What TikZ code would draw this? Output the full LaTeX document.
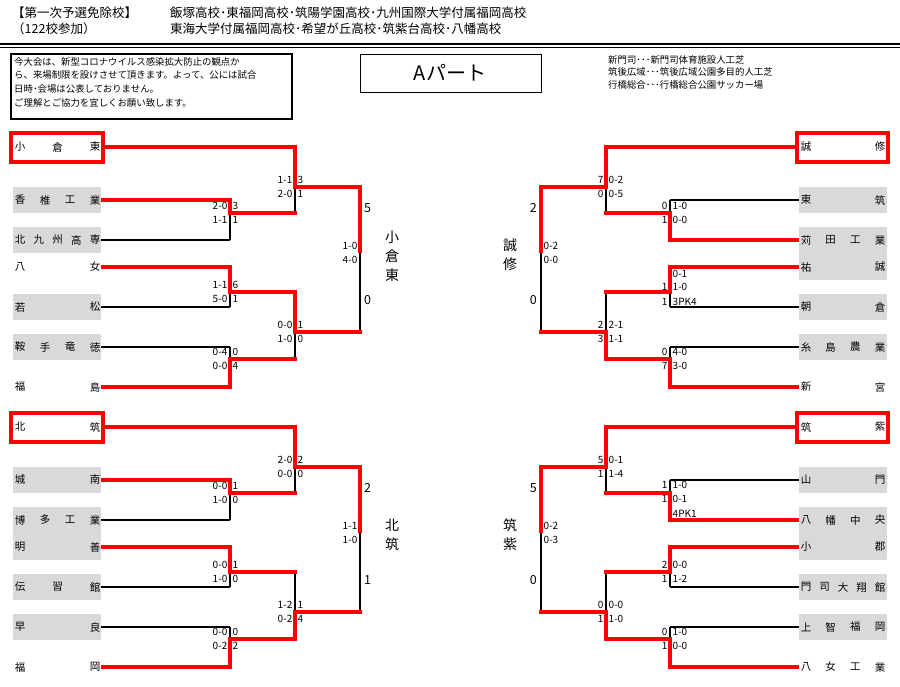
\documentclass[tikz,border=0pt]{standalone}
\usepackage{fontspec}
\setmainfont{Noto Sans CJK JP}
\definecolor{rd}{RGB}{255,0,0}
\definecolor{gb}{RGB}{217,217,217}
\tikzset{
 tn/.style={font=\fontsize{10.5}{11}\selectfont,inner sep=0pt},
 sc/.style={font=\fontsize{10}{10}\selectfont,inner sep=0pt},
 big/.style={font=\fontsize{12.5}{13}\selectfont,inner sep=0pt},
 lbl/.style={font=\fontsize{14}{14}\selectfont,inner sep=0pt},
 rl/.style={draw=rd,line width=4pt},
 bl/.style={draw=black,line width=1.3pt},
}
\newcommand\tmn[5]{\foreach \c [count=\i] in {#5} {\node[tn] at ({#1+(\i-1)*(#2-#1)/(#4-1)},#3) {\c};}}
\newcommand\mt[5]{%
 \ifnum#5=0 \draw[bl] (#1,#3)--(#1,#4); \draw[rl] (#1,#2)--(#1,#4);
 \else \draw[bl] (#1,#2)--(#1,#4); \draw[rl] (#1,#3)--(#1,#4);\fi}
\newcommand\sco[6]{%
 \node[sc,anchor=east] at (#1-2.5,#2-7) {#3};\node[sc,anchor=east] at (#1-2.5,#2+7) {#4};
 \node[sc,anchor=west] at (#1+2.5,#2-7) {#5};\node[sc,anchor=west] at (#1+2.5,#2+7) {#6};}
\newcommand\gbl[1]{\fill[gb] (13,#1-13) rectangle (101,#1+13);}
\newcommand\gbr[1]{\fill[gb] (799,#1-13) rectangle (887,#1+13);}
\begin{document}
\begin{tikzpicture}[x=1pt,y=-1pt]
\fill[white] (0,0) rectangle (900,686);
\useasboundingbox (0,0) rectangle (900,686);
\node[anchor=west,font=\fontsize{12.5}{13}\selectfont,inner sep=0pt] (h1) at (12,13) {【第一次予選免除校】};
\node[anchor=west,font=\fontsize{12.5}{13}\selectfont,inner sep=0pt] (h2) at (12,29) {（122校参加）};
\node[anchor=west,font=\fontsize{12.5}{13}\selectfont,inner sep=0pt] (h3) at (170,13) {飯塚高校･東福岡高校･筑陽学園高校･九州国際大学付属福岡高校};
\node[anchor=west,font=\fontsize{12.5}{13}\selectfont,inner sep=0pt] (h4) at (170,29) {東海大学付属福岡高校･希望が丘高校･筑紫台高校･八幡高校};
\draw[line width=1.2pt] (0,44)--(900,44);
\draw[line width=0.6pt] (0,47.5)--(900,47.5);
\draw[line width=2.5pt] (11,54) rectangle (292,119);
\node[anchor=north west,align=left,font=\fontsize{9.4}{13.7}\selectfont,inner sep=0pt] (nt) at (14,57) {今大会は、新型コロナウイルス感染拡大防止の観点か\\ら、来場制限を設けさせて頂きます。よって、公には試合\\日時･会場は公表しておりません。\\ご理解とご協力を宜しくお願い致します。};
\draw[line width=1pt] (360,54) rectangle (541,92);
\node[font=\fontsize{20}{20}\selectfont] (ap) at (450,73) {Aパート};
\node[anchor=north west,align=left,font=\fontsize{9.4}{12.8}\selectfont,inner sep=0pt] (vn) at (608,55) {新門司･･･新門司体育施設人工芝\\筑後広域･･･筑後広域公園多目的人工芝\\行橋総合･･･行橋総合公園サッカー場};
\gbl{200}\gbl{240}\gbl{307}\gbl{347}
\gbl{480}\fill[gb] (13,507) rectangle (101,560);\gbl{587}\gbl{627}
\gbr{200}\fill[gb] (799,227) rectangle (887,280);\gbr{307}\gbr{347}
\gbr{480}\fill[gb] (799,507) rectangle (887,560);\gbr{587}\gbr{627}
\draw[draw=rd,line width=3.5pt] (11,133) rectangle (103,162);
\draw[draw=rd,line width=3.5pt] (11,413) rectangle (103,442);
\draw[draw=rd,line width=3.5pt] (797,133) rectangle (888,162);
\draw[draw=rd,line width=3.5pt] (797,413) rectangle (888,442);
\tmn{20}{95}{147}{3}{小,倉,東}
\tmn{20}{95}{200}{4}{香,椎,工,業}
\tmn{20}{95}{240}{5}{北,九,州,高,専}
\tmn{20}{95}{267}{2}{八,女}
\tmn{20}{95}{307}{2}{若,松}
\tmn{20}{95}{347}{4}{鞍,手,竜,徳}
\tmn{20}{95}{387}{2}{福,島}
\tmn{20}{95}{427}{2}{北,筑}
\tmn{20}{95}{480}{2}{城,南}
\tmn{20}{95}{520}{4}{博,多,工,業}
\tmn{20}{95}{547}{2}{明,善}
\tmn{20}{95}{587}{3}{伝,習,館}
\tmn{20}{95}{627}{2}{早,良}
\tmn{20}{95}{667}{2}{福,岡}
\tmn{806}{880}{147}{2}{誠,修}
\tmn{806}{880}{200}{2}{東,筑}
\tmn{806}{880}{240}{4}{苅,田,工,業}
\tmn{806}{880}{267}{2}{祐,誠}
\tmn{806}{880}{307}{2}{朝,倉}
\tmn{806}{880}{347}{4}{糸,島,農,業}
\tmn{806}{880}{387}{2}{新,宮}
\tmn{806}{880}{427}{2}{筑,紫}
\tmn{806}{880}{480}{2}{山,門}
\tmn{806}{880}{520}{4}{八,幡,中,央}
\tmn{806}{880}{547}{2}{小,郡}
\tmn{806}{880}{587}{5}{門,司,大,翔,館}
\tmn{806}{880}{627}{4}{上,智,福,岡}
\tmn{806}{880}{667}{4}{八,女,工,業}
\draw[bl] (101,240)--(230,240); \draw[bl] (101,307)--(230,307); \draw[bl] (101,347)--(230,347);
\draw[bl] (101,520)--(230,520); \draw[bl] (101,587)--(230,587); \draw[bl] (101,627)--(230,627);
\draw[bl] (799,200)--(670,200); \draw[bl] (799,307)--(670,307); \draw[bl] (799,347)--(670,347);
\draw[bl] (799,480)--(670,480); \draw[bl] (799,587)--(670,587); \draw[bl] (799,627)--(670,627);
\mt{230}{200}{240}{213}{0}\mt{230}{267}{307}{292}{0}\mt{230}{347}{387}{359}{1}
\mt{295}{147}{213}{187}{0}\mt{295}{292}{359}{332}{0}\mt{360}{187}{332}{253}{0}
\mt{230}{480}{520}{493}{0}\mt{230}{547}{587}{572}{0}\mt{230}{627}{667}{639}{1}
\mt{295}{427}{493}{467}{0}\mt{295}{572}{639}{612}{1}\mt{360}{467}{612}{533}{0}
\mt{670}{200}{240}{213}{1}\mt{670}{267}{307}{292}{0}\mt{670}{347}{387}{359}{1}
\mt{606}{147}{213}{187}{0}\mt{606}{292}{359}{332}{1}\mt{541}{187}{332}{253}{0}
\mt{670}{480}{520}{493}{1}\mt{670}{547}{587}{572}{0}\mt{670}{627}{667}{639}{1}
\mt{606}{427}{493}{467}{0}\mt{606}{572}{639}{612}{1}\mt{541}{467}{612}{533}{0}
\draw[rl] (101,147)--(297,147); \draw[rl] (101,200)--(232,200); \draw[rl] (101,267)--(232,267); \draw[rl] (101,387)--(232,387);
\draw[rl] (228,213)--(297,213); \draw[rl] (228,292)--(297,292); \draw[rl] (228,359)--(297,359);
\draw[rl] (293,187)--(362,187); \draw[rl] (293,332)--(362,332);
\draw[rl] (101,427)--(297,427); \draw[rl] (101,480)--(232,480); \draw[rl] (101,547)--(232,547); \draw[rl] (101,667)--(232,667);
\draw[rl] (228,493)--(297,493); \draw[rl] (228,572)--(297,572); \draw[rl] (228,639)--(297,639);
\draw[rl] (293,467)--(362,467); \draw[rl] (293,612)--(362,612);
\draw[rl] (799,147)--(604,147); \draw[rl] (799,240)--(668,240); \draw[rl] (799,267)--(668,267); \draw[rl] (799,387)--(668,387);
\draw[rl] (672,213)--(604,213); \draw[rl] (672,292)--(604,292); \draw[rl] (672,359)--(604,359);
\draw[rl] (608,187)--(539,187); \draw[rl] (608,332)--(539,332);
\draw[rl] (799,427)--(604,427); \draw[rl] (799,520)--(668,520); \draw[rl] (799,547)--(668,547); \draw[rl] (799,667)--(668,667);
\draw[rl] (672,493)--(604,493); \draw[rl] (672,572)--(604,572); \draw[rl] (672,639)--(604,639);
\draw[rl] (608,467)--(539,467); \draw[rl] (608,612)--(539,612);
\sco{230}{213}{2-0}{1-1}{3}{1}\sco{230}{292}{1-1}{5-0}{6}{1}\sco{230}{359}{0-4}{0-0}{0}{4}
\sco{295}{187}{1-1}{2-0}{3}{1}\sco{295}{332}{0-0}{1-0}{1}{0}\sco{360}{253}{1-0}{4-0}{}{}
\node[big,anchor=west] at (364,208) {5};\node[big,anchor=west] at (364,300) {0};
\sco{230}{493}{0-0}{1-0}{1}{0}\sco{230}{572}{0-0}{1-0}{1}{0}\sco{230}{639}{0-0}{0-2}{0}{2}
\sco{295}{467}{2-0}{0-0}{2}{0}\sco{295}{612}{1-2}{0-2}{1}{4}\sco{360}{533}{1-1}{1-0}{}{}
\node[big,anchor=west] at (364,488) {2};\node[big,anchor=west] at (364,580) {1};
\sco{670}{213}{0}{1}{1-0}{0-0}\sco{670}{359}{0}{7}{4-0}{3-0}
\node[sc,anchor=west] at (672.5,274) {0-1};\node[sc,anchor=west] at (672.5,287) {1-0};\node[sc,anchor=west] at (672.5,302) {3PK4};
\node[sc,anchor=east] at (667.5,287) {1};\node[sc,anchor=east] at (667.5,302) {1};
\sco{606}{187}{7}{0}{0-2}{0-5}\sco{606}{332}{2}{3}{2-1}{1-1}\sco{541}{253}{}{}{0-2}{0-0}
\node[big,anchor=east] at (537,208) {2};\node[big,anchor=east] at (537,300) {0};
\sco{670}{492}{1}{1}{1-0}{0-1}\node[sc,anchor=west] at (672.5,514) {4PK1};
\sco{670}{572}{2}{1}{0-0}{1-2}\sco{670}{639}{0}{1}{1-0}{0-0}
\sco{606}{467}{5}{1}{0-1}{1-4}\sco{606}{612}{0}{1}{0-0}{1-0}\sco{541}{533}{}{}{0-2}{0-3}
\node[big,anchor=east] at (537,488) {5};\node[big,anchor=east] at (537,580) {0};
\node[lbl] (w1) at (392,237) {小}; \node[lbl] at (392,256) {倉}; \node[lbl] at (392,275) {東};
\node[lbl] (w2) at (392,525) {北}; \node[lbl] at (392,544) {筑};
\node[lbl] (w3) at (510,245) {誠}; \node[lbl] at (510,264) {修};
\node[lbl] (w4) at (510,525) {筑}; \node[lbl] at (510,544) {紫};
\end{tikzpicture}
\end{document}
